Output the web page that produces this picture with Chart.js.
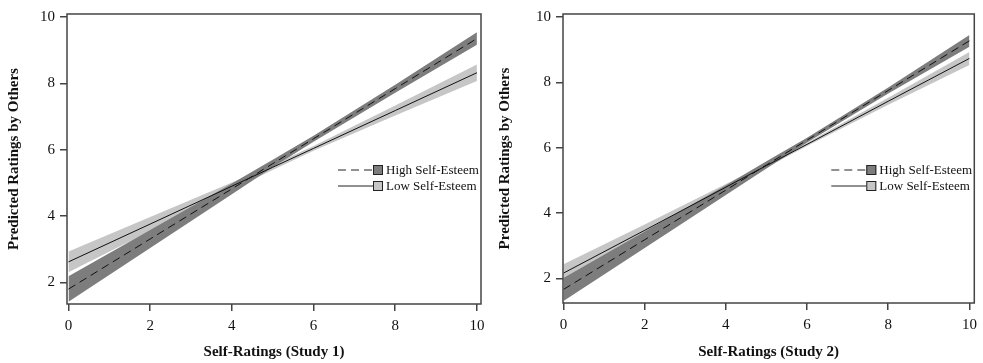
<!DOCTYPE html>
<html>
<head>
<meta charset="utf-8">
<script src="https://cdn.jsdelivr.net/npm/chart.js@4.4.1/dist/chart.umd.min.js"></script>
<style>
    html, body { margin: 0; padding: 0; background: #fff; }
    #wrap { position: relative; width: 983px; height: 363px; }
    canvas { position: absolute; top: 0; }
</style>
</head>
<body>
<div id="wrap">
    <canvas id="study1Chart" width="491" height="363" style="left:0"></canvas>
    <canvas id="study2Chart" width="492" height="363" style="left:491px"></canvas>
</div>
<script>
// Self-ratings grid the fitted lines and bands are read at
const xValues = [0, 2, 4, 5, 6, 8, 10];

// Study 1
const study1HighFit = [1.80, 3.31, 4.82, 5.58, 6.33, 7.84, 9.35];
const study1HighLower = [1.42, 3.04, 4.66, 5.47, 6.24, 7.72, 9.16];
const study1HighUpper = [2.19, 3.58, 4.98, 5.70, 6.42, 7.96, 9.54];
const study1LowFit = [2.62, 3.76, 4.90, 5.47, 6.04, 7.18, 8.32];
const study1LowLower = [2.31, 3.55, 4.79, 5.39, 5.97, 7.03, 8.07];
const study1LowUpper = [2.93, 3.97, 5.01, 5.55, 6.11, 7.33, 8.57];

// Study 2
const study2HighFit = [1.66, 3.18, 4.70, 5.47, 6.23, 7.75, 9.27];
const study2HighLower = [1.31, 2.93, 4.55, 5.36, 6.16, 7.66, 9.09];
const study2HighUpper = [2.01, 3.43, 4.85, 5.58, 6.30, 7.84, 9.45];
const study2LowFit = [2.16, 3.47, 4.79, 5.45, 6.10, 7.42, 8.73];
const study2LowLower = [1.89, 3.29, 4.69, 5.39, 6.05, 7.31, 8.53];
const study2LowUpper = [2.43, 3.65, 4.89, 5.51, 6.15, 7.53, 8.93];

// Axes and labels
const xTicks = [0, 2, 4, 6, 8, 10];
const yTicks = [2, 4, 6, 8, 10];
const legendLabels = ['High Self-Esteem', 'Low Self-Esteem'];
const yTitle = 'Predicted Ratings by Others';
const xTitles = ['Self-Ratings (Study 1)', 'Self-Ratings (Study 2)'];

const DARK_BAND = 'rgb(125, 125, 125)';
const LIGHT_BAND = 'rgb(198, 198, 198)';
const AXIS_GREY = '#444';
const HIGH_DASH = [8, 5];

Chart.defaults.font.family = "'Liberation Serif', 'Times New Roman', serif";
Chart.defaults.color = '#111';

const toPoints = (ys) => ys.map((y, i) => ({ x: xValues[i], y: y }));

// Box round the plot area
const plotBoxPlugin = {
    id: 'plotBox',
    afterDatasetsDraw: (chart) => {
        const { ctx, chartArea: a } = chart;
        ctx.save();
        ctx.strokeStyle = AXIS_GREY;
        ctx.lineWidth = 1.5;
        ctx.strokeRect(a.left, a.top, a.right - a.left, a.bottom - a.top);
        ctx.restore();
    }
};

// Legend: line sample, shaded square, label
const bandLegendPlugin = {
    id: 'bandLegend',
    afterDraw: (chart) => {
        const { ctx, chartArea: a } = chart;
        const rows = [
            { dash: HIGH_DASH, fill: DARK_BAND },
            { dash: [], fill: LIGHT_BAND }
        ];
        ctx.save();
        rows.forEach((row, i) => {
            const y = a.top + 156 + i * 16;
            ctx.strokeStyle = '#222';
            ctx.lineWidth = 1;
            ctx.setLineDash(row.dash);
            ctx.beginPath();
            ctx.moveTo(a.right - 143, y);
            ctx.lineTo(a.right - 108, y);
            ctx.stroke();
            ctx.setLineDash([]);
            ctx.fillStyle = row.fill;
            ctx.fillRect(a.right - 108, y - 5, 10, 10);
            ctx.strokeRect(a.right - 107.5, y - 4.5, 9, 9);
            ctx.fillStyle = '#111';
            ctx.font = "13px 'Liberation Serif', serif";
            ctx.textBaseline = 'middle';
            ctx.textAlign = 'left';
            ctx.fillText(legendLabels[i], a.right - 95, y + 0.5);
        });
        ctx.restore();
    }
};

const chartManager = {
    // Build one panel
    buildPanel: (canvasId, opts) => {
        const lineSet = (label, data, dash) => ({
            label: label,
            data: toPoints(data),
            borderColor: '#111',
            borderWidth: 1,
            borderDash: dash,
            pointRadius: 0,
            fill: false
        });
        const bandSet = (data, color, fill) => ({
            data: toPoints(data),
            borderWidth: 0,
            borderColor: color,
            backgroundColor: color,
            pointRadius: 0,
            fill: fill
        });

        new Chart(document.getElementById(canvasId), {
            type: 'line',
            data: {
                datasets: [
                    lineSet(legendLabels[0], opts.highFit, HIGH_DASH),
                    lineSet(legendLabels[1], opts.lowFit, []),
                    bandSet(opts.highLower, DARK_BAND, false),
                    bandSet(opts.highUpper, DARK_BAND, '-1'),
                    bandSet(opts.lowLower, LIGHT_BAND, false),
                    bandSet(opts.lowUpper, LIGHT_BAND, '-1')
                ]
            },
            options: {
                responsive: false,
                animation: false,
                layout: { padding: { top: 10, right: opts.rightPad, left: 0, bottom: 0 } },
                plugins: {
                    legend: { display: false },
                    tooltip: { enabled: false }
                },
                scales: {
                    x: {
                        type: 'linear',
                        min: opts.xMin,
                        max: opts.xMax,
                        afterBuildTicks: (s) => { s.ticks = xTicks.map(v => ({ value: v })); },
                        afterFit: (s) => { s.height = opts.xAxisHeight; },
                        ticks: { font: { size: 15 }, color: '#111', padding: 6, maxRotation: 0 },
                        grid: { drawOnChartArea: false, tickLength: 7, color: AXIS_GREY, lineWidth: 1.5 },
                        border: { display: false },
                        title: {
                            display: true,
                            text: opts.xTitle,
                            font: { size: 15, weight: 'bold' },
                            color: '#111',
                            padding: { top: 0, bottom: 2 }
                        }
                    },
                    y: {
                        type: 'linear',
                        min: opts.yMin,
                        max: opts.yMax,
                        afterBuildTicks: (s) => { s.ticks = yTicks.map(v => ({ value: v })); },
                        afterFit: (s) => { s.width = opts.yAxisWidth; },
                        ticks: { font: { size: 15 }, color: '#111', padding: 5 },
                        grid: { drawOnChartArea: false, tickLength: 7, color: AXIS_GREY, lineWidth: 1.5 },
                        border: { display: false },
                        title: {
                            display: true,
                            text: yTitle,
                            font: { size: 15, weight: 'bold' },
                            color: '#111',
                            padding: { top: 5, bottom: 0 }
                        }
                    }
                }
            },
            plugins: [plotBoxPlugin, bandLegendPlugin]
        });
    },

    init: () => {
        chartManager.buildPanel('study1Chart', {
            highFit: study1HighFit, highLower: study1HighLower, highUpper: study1HighUpper,
            lowFit: study1LowFit, lowLower: study1LowLower, lowUpper: study1LowUpper,
            xTitle: xTitles[0],
            xMin: -0.037, xMax: 10.1, yMin: 1.35, yMax: 10.09,
            yAxisWidth: 67, xAxisHeight: 59, rightPad: 10
        });
        chartManager.buildPanel('study2Chart', {
            highFit: study2HighFit, highLower: study2HighLower, highUpper: study2HighUpper,
            lowFit: study2LowFit, lowLower: study2LowLower, lowUpper: study2LowUpper,
            xTitle: xTitles[1],
            xMin: -0.012, xMax: 10.12, yMin: 1.245, yMax: 10.09,
            yAxisWidth: 72, xAxisHeight: 60, rightPad: 6
        });
    }
};

document.addEventListener('DOMContentLoaded', () => {
    chartManager.init();
});
</script>
</body>
</html>
